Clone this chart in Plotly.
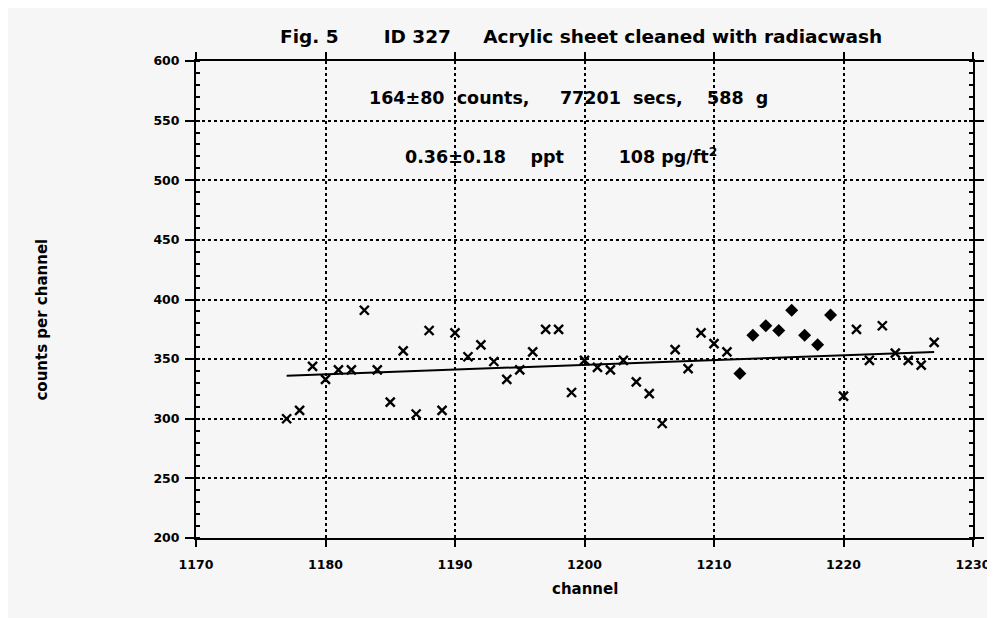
import plotly.graph_objects as go

# channels shown with x markers and their counts
x_channels = [1177, 1178, 1179, 1180, 1181, 1182, 1183, 1184, 1185, 1186, 1187, 1188,
              1189, 1190, 1191, 1192, 1193, 1194, 1195, 1196, 1197, 1198, 1199, 1200,
              1201, 1202, 1203, 1204, 1205, 1206, 1207, 1208, 1209, 1210, 1211,
              1220, 1221, 1222, 1223, 1224, 1225, 1226, 1227]
x_counts = [300, 307, 344, 333, 341, 341, 391, 341, 314, 357, 304, 374,
            307, 372, 352, 362, 348, 333, 341, 356, 375, 375, 322, 349,
            343, 341, 349, 331, 321, 296, 358, 342, 372, 363, 356,
            319, 375, 349, 378, 355, 349, 345, 364]

# peak-region channels (filled diamonds)
peak_channels = [1212, 1213, 1214, 1215, 1216, 1217, 1218, 1219]
peak_counts = [338, 370, 378, 374, 391, 370, 362, 387]

# background fit line
fit_channels = [1177, 1227]
fit_counts = [336, 356]

x_ticks = [1170, 1180, 1190, 1200, 1210, 1220, 1230]
y_ticks = [200, 250, 300, 350, 400, 450, 500, 550, 600]

FONT = "DejaVu Sans"
BG = "#f6f6f6"

fig = go.Figure()
fig.add_trace(go.Scatter(x=fit_channels, y=fit_counts, mode="lines",
                         line=dict(color="black", width=2), showlegend=False))
fig.add_trace(go.Scatter(x=x_channels, y=x_counts, mode="markers",
                         marker=dict(symbol="x-thin", size=9, color="black",
                                     line=dict(color="black", width=2.4)),
                         showlegend=False))
fig.add_trace(go.Scatter(x=peak_channels, y=peak_counts, mode="markers",
                         marker=dict(symbol="diamond", size=10, color="black"),
                         showlegend=False))

fig.update_layout(
    width=995, height=618,
    margin=dict(l=188, r=28, t=53, b=88),
    paper_bgcolor=BG, plot_bgcolor=BG,
    font=dict(family=FONT, color="black"),
    showlegend=False,
)
fig.update_xaxes(
    range=[1170, 1230], tickvals=x_ticks, ticktext=[str(v) for v in x_ticks],
    showgrid=True, gridcolor="black", gridwidth=1.8, griddash="dot",
    showline=True, linecolor="black", linewidth=2, mirror="ticks",
    ticks="outside", ticklen=7, tickwidth=2, tickcolor="black",
    ticklabelstandoff=7,
    tickfont=dict(family=FONT, size=12.5, color="black", weight="bold"),
    zeroline=False,
)
fig.update_yaxes(
    range=[200, 600], tickvals=y_ticks, ticktext=[str(v) for v in y_ticks],
    showgrid=True, gridcolor="black", gridwidth=1.8, griddash="dot",
    showline=True, linecolor="black", linewidth=2, mirror="ticks",
    ticks="outside", ticklen=9, tickwidth=2, tickcolor="black",
    ticklabelstandoff=3,
    tickfont=dict(family=FONT, size=12.5, color="black", weight="bold"),
    minor=dict(dtick=10, ticks="inside", ticklen=4, tickwidth=1.5, tickcolor="black", showgrid=False),
    zeroline=False,
)

nb = "\u00a0"
fig.add_annotation(text=f"Fig.{nb}5{nb*7}ID{nb}327{nb*5}Acrylic sheet cleaned with radiacwash",
                   xref="paper", yref="paper", x=0.495, y=1.0, yshift=37,
                   showarrow=False, font=dict(family=FONT, size=18.5, weight="bold"))
fig.add_annotation(text=f"164±80{nb*2}counts,{nb*5}77201{nb*2}secs,{nb*4}588{nb*2}g",
                   x=1198.8, y=569, showarrow=False,
                   font=dict(family=FONT, size=17.5, weight="bold"))
fig.add_annotation(text=f"0.36±0.18{nb*4}ppt{nb*9}108{nb}pg/ft<sup>2</sup>",
                   x=1198.2, y=520, showarrow=False,
                   font=dict(family=FONT, size=17.5, weight="bold"))
fig.add_annotation(text="channel", xref="paper", yref="paper", x=0.5, y=0, yshift=-62,
                   showarrow=False, font=dict(family=FONT, size=15, weight="bold"))
fig.add_annotation(text="counts per channel", xref="paper", yref="paper",
                   x=0, xshift=-165, y=0.458, textangle=-90,
                   showarrow=False, font=dict(family=FONT, size=15, weight="bold"))

fig.write_html("out.html")
